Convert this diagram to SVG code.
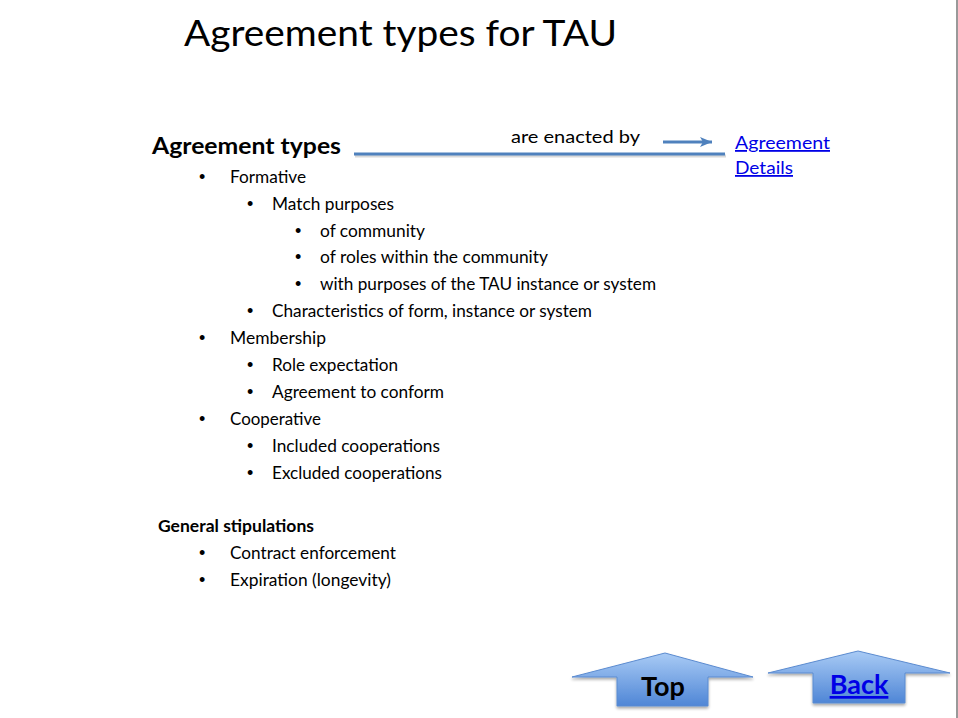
<svg xmlns="http://www.w3.org/2000/svg" width="958" height="718" viewBox="0 0 958 718">
<defs>
<style>
.t{font-family:Lato,"Open Sans","Liberation Sans",sans-serif;fill:#000}
.li{font-size:18px}
.b{font-weight:bold}
.link{fill:#0000e6;text-decoration:underline}
.bul{font-family:"Liberation Sans",sans-serif;font-size:18px;fill:#000}
</style>
<linearGradient id="g" x1="0" y1="0" x2="0" y2="1">
<stop offset="0" stop-color="#a9cbf5"/>
<stop offset="1" stop-color="#4f86d6"/>
</linearGradient>
<marker id="ah" markerWidth="14" markerHeight="12" refX="12" refY="6" orient="auto" markerUnits="userSpaceOnUse">
<path d="M0,1 L12,6 L0,11 L3,6 Z" fill="#4f81bd"/>
</marker>
<filter id="sh" x="-10%" y="-20%" width="120%" height="160%">
<feGaussianBlur in="SourceAlpha" stdDeviation="1.5"/>
<feOffset dx="0" dy="2" result="o"/>
<feComponentTransfer><feFuncA type="linear" slope="0.35"/></feComponentTransfer>
<feMerge><feMergeNode/><feMergeNode in="SourceGraphic"/></feMerge>
</filter>
</defs>
<rect width="958" height="718" fill="#fff"/>
<line x1="957" y1="0" x2="957" y2="718" stroke="#999" stroke-width="2"/>

<text class="t" x="184" y="46" font-size="36" textLength="433" lengthAdjust="spacingAndGlyphs">Agreement types for TAU</text>

<g id="agreement-types">
<text class="t b" x="152" y="154" font-size="23" textLength="189" lengthAdjust="spacingAndGlyphs">Agreement types</text>
</g>

<g id="connectors">
<line x1="355" y1="156" x2="726" y2="156" stroke="#000" stroke-opacity="0.15" stroke-width="3"/>
<line x1="354" y1="154" x2="725" y2="154" stroke="#4f81bd" stroke-width="3"/>
<line x1="663" y1="142" x2="712" y2="142" stroke="#4f81bd" stroke-width="3" marker-end="url(#ah)"/>
<text class="t" x="511" y="143" font-size="18" textLength="129" lengthAdjust="spacingAndGlyphs">are enacted by</text>
</g>

<g id="agreement-details">
<text class="t link" x="735" y="149" font-size="18" textLength="95" lengthAdjust="spacingAndGlyphs">Agreement</text>
<text class="t link" x="735" y="174" font-size="18" textLength="58" lengthAdjust="spacingAndGlyphs">Details</text>
</g>

<g id="list">
<text class="bul" x="199" y="183">•</text><text class="t li" x="230" y="183" textLength="76" lengthAdjust="spacingAndGlyphs">Formative</text>
<text class="bul" x="247" y="210">•</text><text class="t li" x="272" y="210" textLength="122" lengthAdjust="spacingAndGlyphs">Match purposes</text>
<text class="bul" x="295" y="237">•</text><text class="t li" x="320" y="237" textLength="105" lengthAdjust="spacingAndGlyphs">of community</text>
<text class="bul" x="295" y="263">•</text><text class="t li" x="320" y="263" textLength="228" lengthAdjust="spacingAndGlyphs">of roles within the community</text>
<text class="bul" x="295" y="290">•</text><text class="t li" x="320" y="290" textLength="336" lengthAdjust="spacingAndGlyphs">with purposes of the TAU instance or system</text>
<text class="bul" x="247" y="317">•</text><text class="t li" x="272" y="317" textLength="320" lengthAdjust="spacingAndGlyphs">Characteristics of form, instance or system</text>
<text class="bul" x="199" y="344">•</text><text class="t li" x="230" y="344" textLength="96" lengthAdjust="spacingAndGlyphs">Membership</text>
<text class="bul" x="247" y="371">•</text><text class="t li" x="272" y="371" textLength="126" lengthAdjust="spacingAndGlyphs">Role expectation</text>
<text class="bul" x="247" y="398">•</text><text class="t li" x="272" y="398" textLength="172" lengthAdjust="spacingAndGlyphs">Agreement to conform</text>
<text class="bul" x="199" y="425">•</text><text class="t li" x="230" y="425" textLength="91" lengthAdjust="spacingAndGlyphs">Cooperative</text>
<text class="bul" x="247" y="452">•</text><text class="t li" x="272" y="452" textLength="168" lengthAdjust="spacingAndGlyphs">Included cooperations</text>
<text class="bul" x="247" y="479">•</text><text class="t li" x="272" y="479" textLength="170" lengthAdjust="spacingAndGlyphs">Excluded cooperations</text>
</g>

<g id="general-stipulations">
<text class="t b" x="158" y="532" font-size="17" textLength="156" lengthAdjust="spacingAndGlyphs">General stipulations</text>
<text class="bul" x="199" y="559">•</text><text class="t li" x="230" y="559" textLength="166" lengthAdjust="spacingAndGlyphs">Contract enforcement</text>
<text class="bul" x="199" y="586">•</text><text class="t li" x="230" y="586" textLength="161" lengthAdjust="spacingAndGlyphs">Expiration (longevity)</text>
</g>

<g id="top-button">
<path d="M665,653 L753,677 L708,677 L708,706 L617,706 L617,677 L572,677 Z" fill="url(#g)" stroke="#5b8bd0" stroke-width="1" filter="url(#sh)"/>
<text class="t b" x="663" y="696" font-size="27" text-anchor="middle">Top</text>
</g>

<g id="back-button">
<path d="M858,651 L950,673 L905,673 L905,703 L813,703 L813,673 L768,673 Z" fill="url(#g)" stroke="#5b8bd0" stroke-width="1" filter="url(#sh)"/>
<text class="t b link" x="859" y="694" font-size="27" text-anchor="middle">Back</text>
</g>
</svg>
